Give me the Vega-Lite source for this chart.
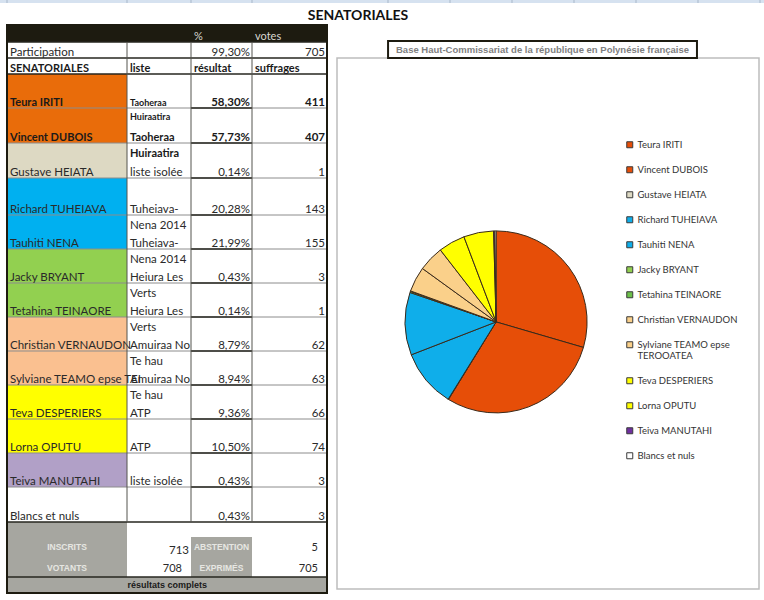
{
  "$schema": "https://vega.github.io/schema/vega-lite/v6.json",
  "width": 764,
  "height": 600,
  "padding": 0,
  "autosize": {"type": "none"},
  "background": "white",
  "config": {"view": {"stroke": null}},
  "datasets": {
    "candidates": [
      {"candidate": "Teura IRITI", "votes": 411, "order": 1},
      {"candidate": "Vincent DUBOIS", "votes": 407, "order": 2},
      {"candidate": "Gustave HEIATA", "votes": 1, "order": 3},
      {"candidate": "Richard TUHEIAVA", "votes": 143, "order": 4},
      {"candidate": "Tauhiti NENA", "votes": 155, "order": 5},
      {"candidate": "Jacky BRYANT", "votes": 3, "order": 6},
      {"candidate": "Tetahina TEINAORE", "votes": 1, "order": 7},
      {"candidate": "Christian VERNAUDON", "votes": 62, "order": 8},
      {"candidate": "Sylviane TEAMO epse TEROOATEA", "votes": 63, "order": 9},
      {"candidate": "Teva DESPERIERS", "votes": 66, "order": 10},
      {"candidate": "Lorna OPUTU", "votes": 74, "order": 11},
      {"candidate": "Teiva MANUTAHI", "votes": 3, "order": 12},
      {"candidate": "Blancs et nuls", "votes": 3, "order": 13}
    ],
    "cells": [
      {"key": "header", "col": 0, "colEnd": 4, "row": 0, "rowEnd": 1},
      {"key": "Teura IRITI", "col": 0, "colEnd": 1, "row": 3, "rowEnd": 4},
      {"key": "Vincent DUBOIS", "col": 0, "colEnd": 1, "row": 4, "rowEnd": 5},
      {"key": "Gustave HEIATA", "col": 0, "colEnd": 1, "row": 5, "rowEnd": 6},
      {"key": "Richard TUHEIAVA", "col": 0, "colEnd": 1, "row": 6, "rowEnd": 7},
      {"key": "Tauhiti NENA", "col": 0, "colEnd": 1, "row": 7, "rowEnd": 8},
      {"key": "Jacky BRYANT", "col": 0, "colEnd": 1, "row": 8, "rowEnd": 9},
      {"key": "Tetahina TEINAORE", "col": 0, "colEnd": 1, "row": 9, "rowEnd": 10},
      {"key": "Christian VERNAUDON", "col": 0, "colEnd": 1, "row": 10, "rowEnd": 11},
      {"key": "Sylviane TEAMO epse TEROOATEA", "col": 0, "colEnd": 1, "row": 11, "rowEnd": 12},
      {"key": "Teva DESPERIERS", "col": 0, "colEnd": 1, "row": 12, "rowEnd": 13},
      {"key": "Lorna OPUTU", "col": 0, "colEnd": 1, "row": 13, "rowEnd": 14},
      {"key": "Teiva MANUTAHI", "col": 0, "colEnd": 1, "row": 14, "rowEnd": 15},
      {"key": "summary", "col": 0, "colEnd": 1, "row": 16, "rowEnd": 19},
      {"key": "summary", "col": 2, "colEnd": 3, "row": 17, "rowEnd": 19},
      {"key": "summary", "col": 0, "colEnd": 4, "row": 19, "rowEnd": 20}
    ],
    "texts": [
      {"kind": "head", "col": 2, "row": 1, "label": "%"},
      {"kind": "head", "col": 3, "row": 1, "label": "votes"},
      {"kind": "left", "col": 0, "row": 2, "label": "Participation"},
      {"kind": "right", "col": 3, "row": 2, "label": "99,30%"},
      {"kind": "right", "col": 4, "row": 2, "label": "705"},
      {"kind": "leftStrong", "col": 0, "row": 3, "label": "SENATORIALES"},
      {"kind": "leftStrong", "col": 1, "row": 3, "label": "liste"},
      {"kind": "leftStrong", "col": 2, "row": 3, "label": "résultat"},
      {"kind": "leftStrong", "col": 3, "row": 3, "label": "suffrages"},
      {"kind": "leftStrong", "col": 0, "row": 4, "label": "Teura IRITI"},
      {"kind": "leftSmall", "col": 1, "row": 4, "label": "Taoheraa\nHuiraatira"},
      {"kind": "rightStrong", "col": 3, "row": 4, "label": "58,30%"},
      {"kind": "rightStrong", "col": 4, "row": 4, "label": "411"},
      {"kind": "leftStrong", "col": 0, "row": 5, "label": "Vincent DUBOIS"},
      {"kind": "leftStrong", "col": 1, "row": 5, "label": "Taoheraa\nHuiraatira"},
      {"kind": "rightStrong", "col": 3, "row": 5, "label": "57,73%"},
      {"kind": "rightStrong", "col": 4, "row": 5, "label": "407"},
      {"kind": "left", "col": 0, "row": 6, "label": "Gustave HEIATA"},
      {"kind": "left", "col": 1, "row": 6, "label": "liste isolée"},
      {"kind": "right", "col": 3, "row": 6, "label": "0,14%"},
      {"kind": "right", "col": 4, "row": 6, "label": "1"},
      {"kind": "left", "col": 0, "row": 7, "label": "Richard TUHEIAVA"},
      {"kind": "left", "col": 1, "row": 7, "label": "Tuheiava-\nNena 2014"},
      {"kind": "right", "col": 3, "row": 7, "label": "20,28%"},
      {"kind": "right", "col": 4, "row": 7, "label": "143"},
      {"kind": "left", "col": 0, "row": 8, "label": "Tauhiti NENA"},
      {"kind": "left", "col": 1, "row": 8, "label": "Tuheiava-\nNena 2014"},
      {"kind": "right", "col": 3, "row": 8, "label": "21,99%"},
      {"kind": "right", "col": 4, "row": 8, "label": "155"},
      {"kind": "left", "col": 0, "row": 9, "label": "Jacky BRYANT"},
      {"kind": "left", "col": 1, "row": 9, "label": "Heiura Les\nVerts"},
      {"kind": "right", "col": 3, "row": 9, "label": "0,43%"},
      {"kind": "right", "col": 4, "row": 9, "label": "3"},
      {"kind": "left", "col": 0, "row": 10, "label": "Tetahina TEINAORE"},
      {"kind": "left", "col": 1, "row": 10, "label": "Heiura Les\nVerts"},
      {"kind": "right", "col": 3, "row": 10, "label": "0,14%"},
      {"kind": "right", "col": 4, "row": 10, "label": "1"},
      {"kind": "left", "col": 0, "row": 11, "label": "Christian VERNAUDON"},
      {"kind": "left", "col": 1, "row": 11, "label": "Amuiraa No\nTe hau"},
      {"kind": "right", "col": 3, "row": 11, "label": "8,79%"},
      {"kind": "right", "col": 4, "row": 11, "label": "62"},
      {"kind": "left", "col": 0, "row": 12, "label": "Sylviane TEAMO epse TEI"},
      {"kind": "left", "col": 1, "row": 12, "label": "Amuiraa No\nTe hau"},
      {"kind": "right", "col": 3, "row": 12, "label": "8,94%"},
      {"kind": "right", "col": 4, "row": 12, "label": "63"},
      {"kind": "left", "col": 0, "row": 13, "label": "Teva DESPERIERS"},
      {"kind": "left", "col": 1, "row": 13, "label": "ATP"},
      {"kind": "right", "col": 3, "row": 13, "label": "9,36%"},
      {"kind": "right", "col": 4, "row": 13, "label": "66"},
      {"kind": "left", "col": 0, "row": 14, "label": "Lorna OPUTU"},
      {"kind": "left", "col": 1, "row": 14, "label": "ATP"},
      {"kind": "right", "col": 3, "row": 14, "label": "10,50%"},
      {"kind": "right", "col": 4, "row": 14, "label": "74"},
      {"kind": "left", "col": 0, "row": 15, "label": "Teiva MANUTAHI"},
      {"kind": "left", "col": 1, "row": 15, "label": "liste isolée"},
      {"kind": "right", "col": 3, "row": 15, "label": "0,43%"},
      {"kind": "right", "col": 4, "row": 15, "label": "3"},
      {"kind": "left", "col": 0, "row": 16, "label": "Blancs et nuls"},
      {"kind": "right", "col": 3, "row": 16, "label": "0,43%"},
      {"kind": "right", "col": 4, "row": 16, "label": "3"},
      {"kind": "summary", "col": 0.5, "row": 18, "label": "INSCRITS"},
      {"kind": "summary", "col": 0.5, "row": 19, "label": "VOTANTS"},
      {"kind": "summary", "col": 2.5, "row": 18, "label": "ABSTENTION"},
      {"kind": "summary", "col": 2.5, "row": 19, "label": "EXPRIMÉS"},
      {"kind": "right", "col": 2, "row": 18, "label": "713"},
      {"kind": "inset", "col": 2, "row": 19, "label": "708"},
      {"kind": "inset", "col": 4, "row": 18, "label": "5"},
      {"kind": "inset", "col": 4, "row": 19, "label": "705"}
    ]
  },
  "layer": [
    {
      "encoding": {
        "x": {"field": "col", "type": "quantitative", "axis": null, "scale": {"domain": [-1, 0, 1, 2, 3, 4, 5, 6, 7, 8, 9, 10, 11, 12], "range": [0, 7, 127, 191, 252, 327, 388, 450, 512, 574, 636, 698, 760, 764], "nice": false, "zero": false}},
        "y": {"field": "row", "type": "quantitative", "axis": null, "scale": {"domain": [-2, -1, 0, 1, 2, 3, 4, 5, 6, 7, 8, 9, 10, 11, 12, 13, 14, 15, 16, 17, 18, 19, 20], "range": [0, 3, 25, 42, 58, 74, 108, 143, 178, 215, 249, 283, 317, 351, 385, 419, 453, 487, 522, 537, 556, 577, 593], "nice": false, "zero": false}}
      },
      "layer": [
        {
          "data": {"values": [{"col": -1, "colEnd": 12, "row": -2, "rowEnd": -1}]},
          "mark": {"type": "rect", "color": "#d6e2f0"},
          "encoding": {"x2": {"field": "colEnd"}, "y2": {"field": "rowEnd"}}
        },
        {
          "data": {"values": [
            {"col": 0, "row": -2, "rowEnd": -1}, {"col": 1, "row": -2, "rowEnd": -1}, {"col": 2, "row": -2, "rowEnd": -1}, {"col": 3, "row": -2, "rowEnd": -1},
            {"col": 5, "row": -2, "rowEnd": -1}, {"col": 6, "row": -2, "rowEnd": -1}, {"col": 7, "row": -2, "rowEnd": -1}, {"col": 8, "row": -2, "rowEnd": -1},
            {"col": 9, "row": -2, "rowEnd": -1}, {"col": 10, "row": -2, "rowEnd": -1}, {"col": 11, "row": -2, "rowEnd": -1}
          ]},
          "mark": {"type": "rule", "color": "#a9b8ca", "strokeWidth": 1},
          "encoding": {"y2": {"field": "rowEnd"}}
        },
        {
          "data": {"name": "cells"},
          "mark": {"type": "rect"},
          "encoding": {
            "x2": {"field": "colEnd"},
            "y2": {"field": "rowEnd"},
            "color": {
              "field": "key",
              "type": "nominal",
              "legend": null,
              "scale": {
                "domain": ["header", "summary", "Teura IRITI", "Vincent DUBOIS", "Gustave HEIATA", "Richard TUHEIAVA", "Tauhiti NENA", "Jacky BRYANT", "Tetahina TEINAORE", "Christian VERNAUDON", "Sylviane TEAMO epse TEROOATEA", "Teva DESPERIERS", "Lorna OPUTU", "Teiva MANUTAHI"],
                "range": ["#1d1b10", "#a6a6a0", "#e96c0a", "#e96c0a", "#ddd9c3", "#00b0f0", "#00b0f0", "#92d050", "#92d050", "#fac090", "#fac090", "#ffff00", "#ffff00", "#b1a0c7"]
              }
            }
          }
        },
        {
          "data": {"values": [
            {"col": 0, "colEnd": 4, "row": 4}, {"col": 0, "colEnd": 4, "row": 5}, {"col": 0, "colEnd": 4, "row": 6}, {"col": 0, "colEnd": 4, "row": 7},
            {"col": 0, "colEnd": 4, "row": 8}, {"col": 0, "colEnd": 4, "row": 9}, {"col": 0, "colEnd": 4, "row": 10}, {"col": 0, "colEnd": 4, "row": 11},
            {"col": 0, "colEnd": 4, "row": 12}, {"col": 0, "colEnd": 4, "row": 13}, {"col": 0, "colEnd": 4, "row": 14}, {"col": 0, "colEnd": 4, "row": 15}
          ]},
          "mark": {"type": "rule", "color": "#8c8c8c", "strokeWidth": 1},
          "encoding": {"x2": {"field": "colEnd"}}
        },
        {
          "data": {"values": [
            {"col": 2, "colEnd": 3, "row": 4}, {"col": 2, "colEnd": 3, "row": 5}, {"col": 2, "colEnd": 3, "row": 6}, {"col": 2, "colEnd": 3, "row": 7},
            {"col": 2, "colEnd": 3, "row": 8}, {"col": 2, "colEnd": 3, "row": 9}, {"col": 2, "colEnd": 3, "row": 10}, {"col": 2, "colEnd": 3, "row": 11},
            {"col": 2, "colEnd": 3, "row": 12}, {"col": 2, "colEnd": 3, "row": 13}, {"col": 2, "colEnd": 3, "row": 14}, {"col": 2, "colEnd": 3, "row": 15},
            {"col": 0, "colEnd": 4, "row": 1}, {"col": 0, "colEnd": 4, "row": 2}, {"col": 0, "colEnd": 4, "row": 3}, {"col": 0, "colEnd": 4, "row": 16}, {"col": 0, "colEnd": 4, "row": 19}
          ]},
          "mark": {"type": "rule", "color": "#26261f", "strokeWidth": 1.5},
          "encoding": {"x2": {"field": "colEnd"}}
        },
        {
          "data": {"values": [
            {"col": 1, "row": 1, "rowEnd": 16}, {"col": 2, "row": 1, "rowEnd": 16}, {"col": 3, "row": 1, "rowEnd": 16}
          ]},
          "mark": {"type": "rule", "color": "#55554f", "strokeWidth": 1},
          "encoding": {"y2": {"field": "rowEnd"}}
        },
        {
          "data": {"values": [{"col": 0, "colEnd": 4, "row": 0, "rowEnd": 20}]},
          "mark": {"type": "rect", "fillOpacity": 0, "stroke": "#1d1b10", "strokeWidth": 2},
          "encoding": {"x2": {"field": "colEnd"}, "y2": {"field": "rowEnd"}}
        },
        {
          "data": {"name": "texts"},
          "transform": [{"filter": "datum.kind === 'left'"}],
          "mark": {"type": "text", "align": "left", "baseline": "bottom", "dx": 3, "font": "Lato", "fontSize": 11.5, "color": "#2a2a2a", "lineBreak": "\n", "lineHeight": 15.5},
          "encoding": {"text": {"field": "label"}}
        },
        {
          "data": {"name": "texts"},
          "transform": [{"filter": "datum.kind === 'leftStrong'"}],
          "mark": {"type": "text", "align": "left", "baseline": "bottom", "dx": 3, "font": "Lato", "fontWeight": "bold", "fontSize": 11, "color": "#1a1a1a", "lineBreak": "\n", "lineHeight": 15.5},
          "encoding": {"text": {"field": "label"}}
        },
        {
          "data": {"name": "texts"},
          "transform": [{"filter": "datum.kind === 'leftSmall'"}],
          "mark": {"type": "text", "align": "left", "baseline": "bottom", "dx": 3, "font": "Lato", "fontWeight": "bold", "fontSize": 9, "color": "#1a1a1a", "lineBreak": "\n", "lineHeight": 13.5},
          "encoding": {"text": {"field": "label"}}
        },
        {
          "data": {"name": "texts"},
          "transform": [{"filter": "datum.kind === 'right'"}],
          "mark": {"type": "text", "align": "right", "baseline": "bottom", "dx": -2, "font": "Lato", "fontSize": 11.5, "color": "#2a2a2a"},
          "encoding": {"text": {"field": "label"}}
        },
        {
          "data": {"name": "texts"},
          "transform": [{"filter": "datum.kind === 'rightStrong'"}],
          "mark": {"type": "text", "align": "right", "baseline": "bottom", "dx": -2, "font": "Lato", "fontWeight": "bold", "fontSize": 11.5, "color": "#1a1a1a"},
          "encoding": {"text": {"field": "label"}}
        },
        {
          "data": {"name": "texts"},
          "transform": [{"filter": "datum.kind === 'inset'"}],
          "mark": {"type": "text", "align": "right", "baseline": "bottom", "dx": -9, "dy": -3, "font": "Lato", "fontSize": 11, "color": "#2a2a2a"},
          "encoding": {"text": {"field": "label"}}
        },
        {
          "data": {"name": "texts"},
          "transform": [{"filter": "datum.kind === 'head'"}],
          "mark": {"type": "text", "align": "left", "baseline": "bottom", "dx": 3, "font": "Lato", "fontSize": 11, "color": "#d8d8d0"},
          "encoding": {"text": {"field": "label"}}
        },
        {
          "data": {"name": "texts"},
          "transform": [{"filter": "datum.kind === 'summary'"}],
          "mark": {"type": "text", "align": "center", "baseline": "bottom", "dy": -4, "font": "Liberation Sans", "fontWeight": "bold", "fontSize": 8.5, "color": "#e6e6e2"},
          "encoding": {"text": {"field": "label"}}
        },
        {
          "data": {"values": [{"col": 1.63, "row": 20, "label": "résultats complets"}]},
          "mark": {"type": "text", "align": "center", "baseline": "bottom", "dy": -3, "font": "Liberation Sans", "fontWeight": "bold", "fontSize": 9, "color": "#1a1a1a"},
          "encoding": {"text": {"field": "label"}}
        },
        {
          "data": {"values": [{"col": 4, "row": 0, "label": "SENATORIALES"}]},
          "mark": {"type": "text", "align": "center", "baseline": "bottom", "dx": 31, "dy": -2, "font": "Lato", "fontWeight": "bold", "fontSize": 14, "color": "#111111"},
          "encoding": {"text": {"field": "label"}}
        }
      ]
    },
    {
      "data": {"name": "candidates"},
      "layer": [
        {
          "data": {"values": [{"panel": "frame"}]},
          "mark": {"type": "rect", "color": "white", "stroke": "#bdbdbd", "strokeWidth": 1.5},
          "encoding": {
            "x": {"datum": 0, "axis": null, "scale": {"domain": [0, 1], "range": [337, 759], "nice": false, "zero": false}},
            "x2": {"datum": 1},
            "y": {"datum": 0, "axis": null, "scale": {"domain": [0, 1], "range": [58, 589], "nice": false, "zero": false}},
            "y2": {"datum": 1}
          }
        },
        {
          "data": {"values": [{"panel": "heading"}]},
          "mark": {"type": "rect", "color": "white", "stroke": "#1d1b10", "strokeWidth": 2},
          "encoding": {
            "x": {"datum": 0.121, "axis": null},
            "x2": {"datum": 0.853},
            "y": {"datum": -0.032, "axis": null},
            "y2": {"datum": 0}
          }
        },
        {
          "data": {"values": [{"label": "Base Haut-Commissariat de la république en Polynésie française"}]},
          "mark": {"type": "text", "align": "center", "baseline": "middle", "font": "Liberation Sans", "fontWeight": "bold", "fontSize": 9.5, "color": "#7f7f7f"},
          "encoding": {
            "x": {"datum": 0.487, "axis": null},
            "y": {"datum": -0.016, "axis": null},
            "text": {"field": "label"}
          }
        },
        {
          "mark": {"type": "arc", "radius": 91, "stroke": "#3a2a1a", "strokeWidth": 1},
          "encoding": {
            "x": {"datum": 0.377, "axis": null},
            "y": {"datum": 0.497, "axis": null},
            "theta": {"field": "votes", "type": "quantitative", "stack": true},
            "order": {"field": "order", "type": "quantitative"},
            "color": {
              "field": "candidate",
              "type": "nominal",
              "scale": {
                "domain": ["Teura IRITI", "Vincent DUBOIS", "Gustave HEIATA", "Richard TUHEIAVA", "Tauhiti NENA", "Jacky BRYANT", "Tetahina TEINAORE", "Christian VERNAUDON", "Sylviane TEAMO epse TEROOATEA", "Teva DESPERIERS", "Lorna OPUTU", "Teiva MANUTAHI", "Blancs et nuls"],
                "range": ["#e64e08", "#e64e08", "#ddd9c3", "#0faeea", "#0faeea", "#92d050", "#6cc04a", "#fad08a", "#fad08a", "#ffff00", "#ffff00", "#7030a0", "#ffffff"]
              },
              "legend": {
                "title": null,
                "orient": "none",
                "legendX": 625,
                "legendY": 140,
                "symbolType": "square",
                "symbolSize": 36,
                "symbolStrokeColor": "#3a3a3a",
                "symbolStrokeWidth": 1,
                "labelFont": "Lato",
                "labelFontSize": 9.5,
                "labelColor": "#333333",
                "labelLimit": 140,
                "labelOffset": 3,
                "rowPadding": 14,
                "labelExpr": "datum.label === 'Sylviane TEAMO epse TEROOATEA' ? ['Sylviane TEAMO epse', 'TEROOATEA'] : datum.label"
              }
            }
          }
        }
      ]
    }
  ],
  "resolve": {"scale": {"x": "independent", "y": "independent", "color": "independent"}}
}
